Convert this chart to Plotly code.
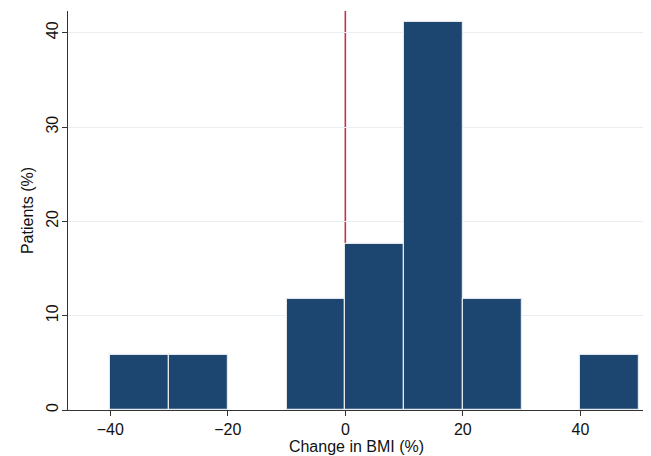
import plotly.graph_objects as go

bin_left = [-40, -30, -10, 0, 10, 20, 40]
bin_width = 10
patients_pct = [5.88, 5.88, 11.76, 17.65, 41.18, 11.76, 5.88]
x_ticks = [-40, -20, 0, 20, 40]
y_ticks = [0, 10, 20, 30, 40]
ref_line_x = 0

centers = [b + bin_width / 2 for b in bin_left]

fig = go.Figure()
fig.add_trace(go.Bar(
    x=centers, y=patients_pct, width=bin_width,
    marker=dict(color="#1c4670", line=dict(color="#e4e8ec", width=1.2)),
    hoverinfo="skip",
))
fig.add_shape(type="line", x0=ref_line_x, x1=ref_line_x, y0=0, y1=1,
              xref="x", yref="y domain", layer="below",
              line=dict(color="#c3314c", width=1.6))

# page body has an 8px default margin, so the figure is 8px smaller
fig.update_layout(
    width=643, height=448,
    margin=dict(l=60, r=6, t=3, b=46),
    paper_bgcolor="white", plot_bgcolor="white",
    showlegend=False,
    font=dict(family="Liberation Sans, Arial, sans-serif", size=16, color="#111"),
    bargap=0,
)
fig.update_xaxes(
    range=[-47.2, 51], tickvals=x_ticks, ticktext=["−40", "−20", "0", "20", "40"],
    showgrid=False, zeroline=False, automargin=False,
    showline=True, linecolor="#333", linewidth=1.2,
    ticks="outside", ticklen=5, tickcolor="#333", tickwidth=1.2,
    title=dict(text="Change in BMI (%)", standoff=0, font=dict(size=16)),
)
fig.update_yaxes(
    range=[0, 42.3], tickvals=y_ticks, tickangle=-90, ticklabelstandoff=-2,
    showgrid=True, gridcolor="#e8eef1", gridwidth=1.2, zeroline=False, automargin=False,
    showline=True, linecolor="#333", linewidth=1.2,
    ticks="outside", ticklen=5, tickcolor="#333", tickwidth=1.2,
    title=dict(text="Patients (%)", standoff=5, font=dict(size=16)),
)
fig.write_html("out.html")
